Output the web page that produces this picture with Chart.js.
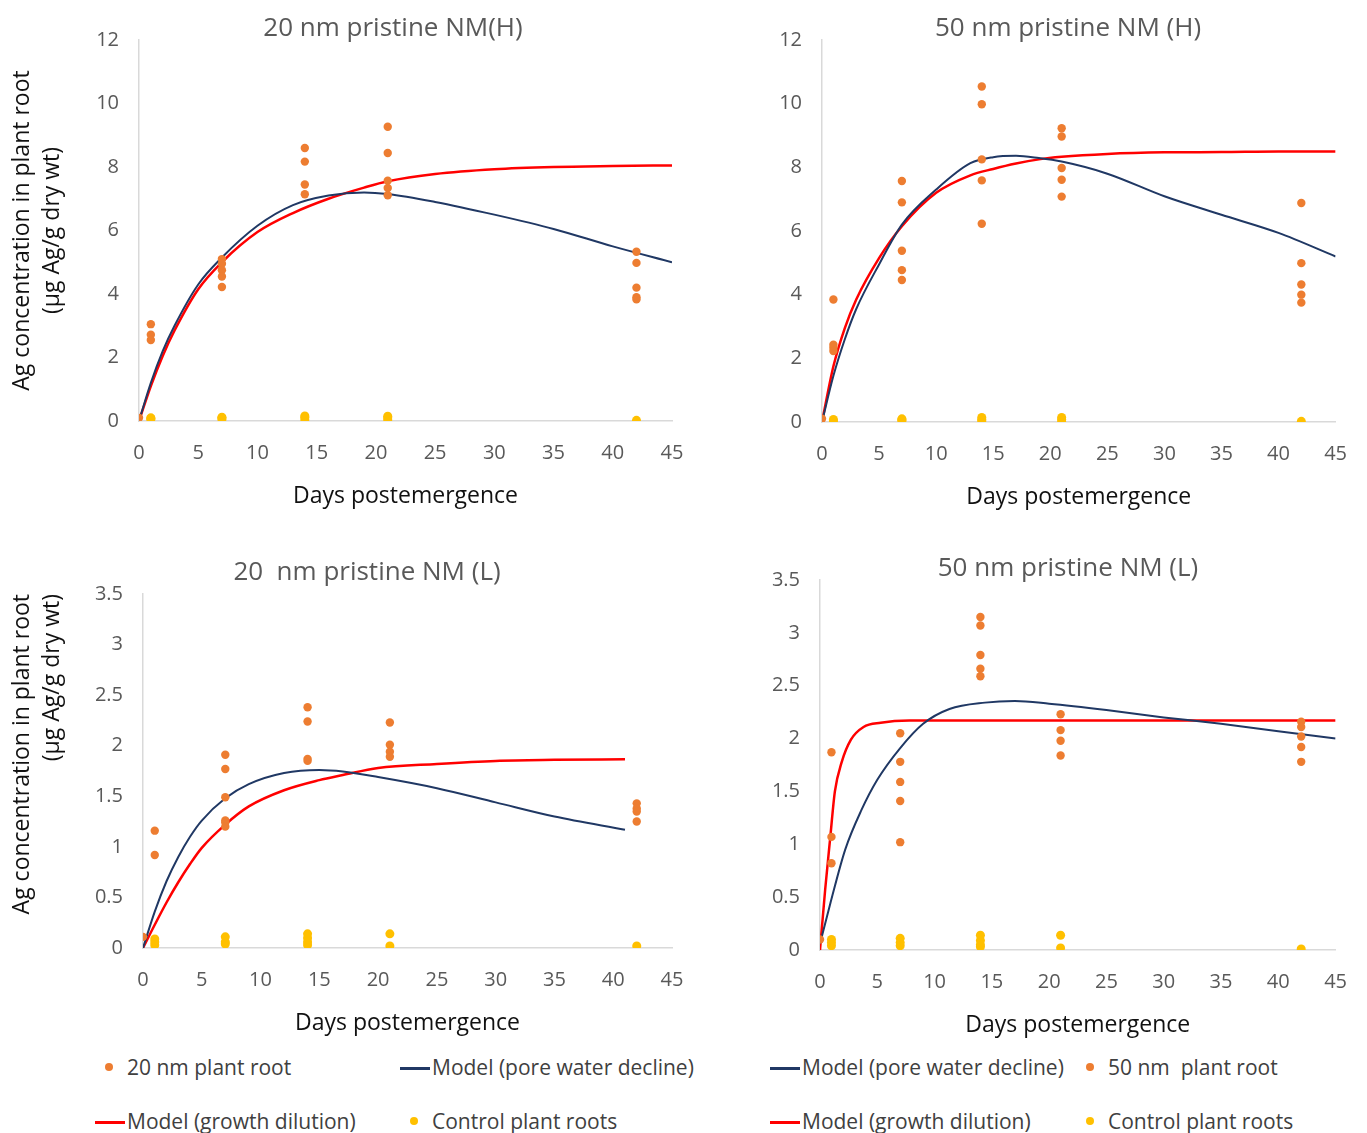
<!DOCTYPE html>
<html>
<head>
<meta charset="utf-8">
<script src="https://cdn.jsdelivr.net/npm/chart.js@4"></script>
<style>
  body { margin: 0; background: #fff; font-family: "Open Sans", sans-serif; }
  #page { position: relative; width: 1367px; height: 1133px; overflow: hidden; }
  .box { position: absolute; }
  .leg { position: absolute; font-size: 21px; color: #404040; white-space: pre; line-height: 26px; }
  .dot { display: inline-block; width: 8px; height: 8px; border-radius: 50%; margin-right: 14px; vertical-align: middle; position: relative; top: -2px; }
  .dash { display: inline-block; width: 30px; height: 3px; margin-right: 2px; vertical-align: middle; position: relative; top: -1px; }
</style>
</head>
<body>
<div id="page">
  <div class="box" style="left:0px;top:0px;width:786px;height:521px"><canvas id="c20H"></canvas></div>
  <div class="box" style="left:769px;top:0px;width:598px;height:522px"><canvas id="c50H"></canvas></div>
  <div class="box" style="left:0px;top:544px;width:734px;height:504px"><canvas id="c20L"></canvas></div>
  <div class="box" style="left:769px;top:540px;width:598px;height:510px"><canvas id="c50L"></canvas></div>

  <div class="leg" style="left:105px;top:1054px"><span class="dot" style="background:#ED7D31"></span>20 nm plant root</div>
  <div class="leg" style="left:400px;top:1054px"><span class="dash" style="background:#203864"></span>Model (pore water decline)</div>
  <div class="leg" style="left:95px;top:1108px"><span class="dash" style="background:#FF0000"></span>Model (growth dilution)</div>
  <div class="leg" style="left:410px;top:1108px"><span class="dot" style="background:#FFC000"></span>Control plant roots</div>

  <div class="leg" style="left:770px;top:1054px"><span class="dash" style="background:#203864"></span>Model (pore water decline)</div>
  <div class="leg" style="left:1086px;top:1054px"><span class="dot" style="background:#ED7D31"></span>50 nm  plant root</div>
  <div class="leg" style="left:770px;top:1108px"><span class="dash" style="background:#FF0000"></span>Model (growth dilution)</div>
  <div class="leg" style="left:1086px;top:1108px"><span class="dot" style="background:#FFC000"></span>Control plant roots</div>
</div>
<script>
// ---- 20 nm, high dose ----
const rootDays20H = [0, 1, 1, 1, 7, 7, 7, 7, 7, 14, 14, 14, 14, 21, 21, 21, 21, 21, 42, 42, 42, 42, 42];
const root20H = [0.1, 3.05, 2.72, 2.55, 5.1, 4.95, 4.75, 4.55, 4.22, 8.6, 8.17, 7.45, 7.14, 9.27, 8.44, 7.57, 7.34, 7.11, 5.33, 4.98, 4.2, 3.9, 3.83];
const ctrlDays20H = [1, 1, 1, 7, 7, 7, 14, 14, 14, 21, 21, 21, 42];
const ctrl20H = [0.05, 0.1, 0.08, 0.05, 0.1, 0.12, 0.04, 0.12, 0.16, 0.03, 0.1, 0.15, 0.02];
const modelDays20H = [0, 1, 2, 3, 5, 7, 10, 13, 16, 19, 21, 25, 30, 35, 40, 45];
const pore20H = [0, 1.2, 2.2, 3.0, 4.3, 5.15, 6.15, 6.8, 7.1, 7.2, 7.15, 6.9, 6.5, 6.05, 5.5, 5.0];
const growth20H = [0, 1.1, 2.05, 2.85, 4.15, 5.0, 5.95, 6.55, 7.0, 7.35, 7.55, 7.78, 7.93, 8.0, 8.03, 8.05];

// ---- 50 nm, high dose ----
const rootDays50H = [0, 1, 1, 1, 1, 7, 7, 7, 7, 7, 14, 14, 14, 14, 14, 21, 21, 21, 21, 21, 42, 42, 42, 42, 42];
const root50H = [0.1, 3.85, 2.43, 2.33, 2.23, 7.57, 6.9, 5.38, 4.77, 4.46, 10.54, 9.98, 8.25, 7.59, 6.23, 9.23, 8.97, 7.98, 7.61, 7.08, 6.88, 4.99, 4.32, 4.0, 3.75];
const ctrlDays50H = [1, 1, 7, 7, 7, 14, 14, 14, 21, 21, 21, 42];
const ctrl50H = [0.04, 0.08, 0.04, 0.1, 0.07, 0.03, 0.08, 0.14, 0.0, 0.08, 0.14, 0.02];
const modelDays50H = [0, 1, 2, 3, 5, 7, 10, 13, 15, 17, 19, 21, 25, 30, 35, 40, 45];
const pore50H = [0, 1.45, 2.6, 3.55, 4.95, 6.2, 7.3, 8.13, 8.32, 8.36, 8.29, 8.18, 7.8, 7.09, 6.51, 5.94, 5.2];
const growth50H = [0, 1.75, 2.95, 3.85, 5.15, 6.15, 7.2, 7.75, 7.95, 8.12, 8.25, 8.33, 8.42, 8.47, 8.48, 8.5, 8.5];

// ---- 20 nm, low dose ----
const rootDays20L = [0, 1, 1, 7, 7, 7, 7, 7, 7, 14, 14, 14, 14, 21, 21, 21, 21, 42, 42, 42, 42];
const root20L = [0.11, 1.16, 0.92, 1.91, 1.77, 1.49, 1.26, 1.24, 1.2, 2.38, 2.24, 1.87, 1.85, 2.23, 2.01, 1.94, 1.89, 1.43, 1.38, 1.35, 1.25];
const ctrlDays20L = [1, 1, 1, 7, 7, 7, 14, 14, 14, 14, 21, 21, 42];
const ctrl20L = [0.03, 0.06, 0.09, 0.04, 0.06, 0.11, 0.03, 0.06, 0.1, 0.14, 0.02, 0.14, 0.02];
const modelDays20L = [0, 1, 2, 3, 4, 5, 7, 9, 12, 15, 17, 20, 25, 30, 35, 41];
const pore20L = [0, 0.36, 0.66, 0.9, 1.1, 1.26, 1.48, 1.62, 1.73, 1.76, 1.745, 1.69, 1.58, 1.44, 1.3, 1.17];
const growth20L = [0, 0.23, 0.45, 0.65, 0.83, 0.99, 1.22, 1.4, 1.56, 1.66, 1.71, 1.78, 1.82, 1.85, 1.86, 1.865];

// ---- 50 nm, low dose ----
const rootDays50L = [0, 1, 1, 1, 7, 7, 7, 7, 7, 14, 14, 14, 14, 14, 21, 21, 21, 21, 42, 42, 42, 42, 42];
const root50L = [0.1, 1.87, 1.07, 0.82, 2.05, 1.78, 1.59, 1.41, 1.02, 3.15, 3.07, 2.79, 2.66, 2.59, 2.23, 2.08, 1.98, 1.84, 2.16, 2.11, 2.02, 1.92, 1.78];
const ctrlDays50L = [1, 1, 1, 7, 7, 7, 14, 14, 14, 14, 21, 21, 42];
const ctrl50L = [0.04, 0.07, 0.1, 0.04, 0.07, 0.11, 0.03, 0.05, 0.09, 0.14, 0.02, 0.14, 0.01];
const poreDays50L = [0, 0.9, 2.2, 3.6, 5, 7, 9, 11.3, 14.4, 17, 20, 25, 30, 35, 40, 45];
const pore50L = [0.06, 0.44, 0.95, 1.32, 1.61, 1.91, 2.14, 2.28, 2.34, 2.355, 2.33, 2.27, 2.2, 2.14, 2.07, 2.0];
const growthDays50L = [0, 0.45, 0.9, 1.3, 1.9, 2.7, 3.8, 5.3, 7.8, 45];
const growth50L = [0, 0.57, 1.07, 1.5, 1.78, 1.99, 2.11, 2.15, 2.17, 2.17];

const xTicks = { min: 0, max: 45, step: 5 };

function pairs(xs, ys) {
  return xs.map((x, i) => ({ x: x, y: ys[i] }));
}

function makeChart(id, o) {
  const tickFont = { family: 'Open Sans', size: 20 };
  new Chart(document.getElementById(id), {
    type: 'scatter',
    data: {
      datasets: [
        {
          label: 'Model (growth dilution)', type: 'line',
          data: pairs(o.growthDays, o.growth),
          borderColor: '#FF0000', borderWidth: 2.5, pointRadius: 0,
          cubicInterpolationMode: 'monotone', order: 2
        },
        {
          label: 'Model (pore water decline)', type: 'line',
          data: pairs(o.poreDays, o.pore),
          borderColor: '#203864', borderWidth: 2, pointRadius: 0,
          cubicInterpolationMode: 'monotone', order: 1
        },
        {
          label: 'Control plant roots',
          data: pairs(o.ctrlDays, o.ctrl),
          backgroundColor: '#FFC000', borderWidth: 0, pointRadius: 4.5, order: 3
        },
        {
          label: o.rootLabel,
          data: pairs(o.rootDays, o.root),
          backgroundColor: '#ED7D31', borderWidth: 0, pointRadius: 4.2, order: 0
        }
      ]
    },
    options: {
      responsive: true,
      maintainAspectRatio: false,
      animation: false,
      layout: { padding: 0 },
      plugins: {
        legend: { display: false },
        tooltip: { enabled: false },
        title: {
          display: true, text: o.title, color: '#595959',
          font: { family: 'Open Sans', size: 26, weight: 'normal', lineHeight: '22px' },
          padding: { top: 18, bottom: o.titleGap }
        }
      },
      scales: {
        x: {
          type: 'linear', min: xTicks.min, max: xTicks.max,
          afterFit: s => { s.height = 100; },
          grid: { display: false, drawTicks: false },
          border: { display: true, color: '#D9D9D9', width: 1.5 },
          ticks: { stepSize: xTicks.step, color: '#595959', font: tickFont, padding: 20 },
          title: {
            display: true, text: 'Days postemergence', color: '#111',
            font: { family: 'Open Sans', size: 23 }, padding: { top: 0, bottom: 11 }
          }
        },
        y: {
          type: 'linear', min: 0, max: o.yMax,
          afterFit: s => { s.width = o.yWidth; },
          grid: { display: false, drawTicks: false },
          border: { display: true, color: '#D9D9D9', width: 1.5 },
          ticks: { stepSize: o.yStep, color: '#595959', font: tickFont, padding: 20,
                   callback: v => String(v) },
          title: {
            display: o.yTitle, align: o.yAlign || 'center',
            text: ['Ag concentration in plant root', '(µg Ag/g dry wt)'],
            color: '#111', font: { family: 'Open Sans', size: 23, lineHeight: '30px' },
            padding: { top: 7, bottom: 0 }
          }
        },
        // empty right-hand spacer so the title centres where the original has it
        yRight: {
          type: 'linear', position: 'right', min: 0, max: 1,
          afterFit: s => { s.width = o.rightGap; },
          grid: { display: false, drawTicks: false },
          border: { display: false },
          ticks: { display: false }
        }
      }
    }
  });
}

makeChart('c20H', {
  title: '20 nm pristine NM(H)', rootLabel: '20 nm plant root',
  rootDays: rootDays20H, root: root20H, ctrlDays: ctrlDays20H, ctrl: ctrl20H,
  poreDays: modelDays20H, pore: pore20H, growthDays: modelDays20H, growth: growth20H,
  yMax: 12, yStep: 2, yWidth: 139, rightGap: 114, titleGap: 0, yTitle: true
});
makeChart('c50H', {
  title: '50 nm pristine NM (H)', rootLabel: '50 nm  plant root',
  rootDays: rootDays50H, root: root50H, ctrlDays: ctrlDays50H, ctrl: ctrl50H,
  poreDays: modelDays50H, pore: pore50H, growthDays: modelDays50H, growth: growth50H,
  yMax: 12, yStep: 2, yWidth: 53, rightGap: 15, titleGap: 0, yTitle: false
});
makeChart('c20L', {
  title: '20  nm pristine NM (L)', rootLabel: '20 nm plant root',
  rootDays: rootDays20L, root: root20L, ctrlDays: ctrlDays20L, ctrl: ctrl20L,
  poreDays: modelDays20L, pore: pore20L, growthDays: modelDays20L, growth: growth20L,
  yMax: 3.5, yStep: 0.5, yWidth: 143, rightGap: 62, titleGap: 10, yTitle: true, yAlign: 'end'
});
makeChart('c50L', {
  title: '50 nm pristine NM (L)', rootLabel: '50 nm  plant root',
  rootDays: rootDays50L, root: root50L, ctrlDays: ctrlDays50L, ctrl: ctrl50L,
  poreDays: poreDays50L, pore: pore50L, growthDays: growthDays50L, growth: growth50L,
  yMax: 3.5, yStep: 0.5, yWidth: 51, rightGap: 20, titleGap: 0, yTitle: false
});
</script>
</body>
</html>
